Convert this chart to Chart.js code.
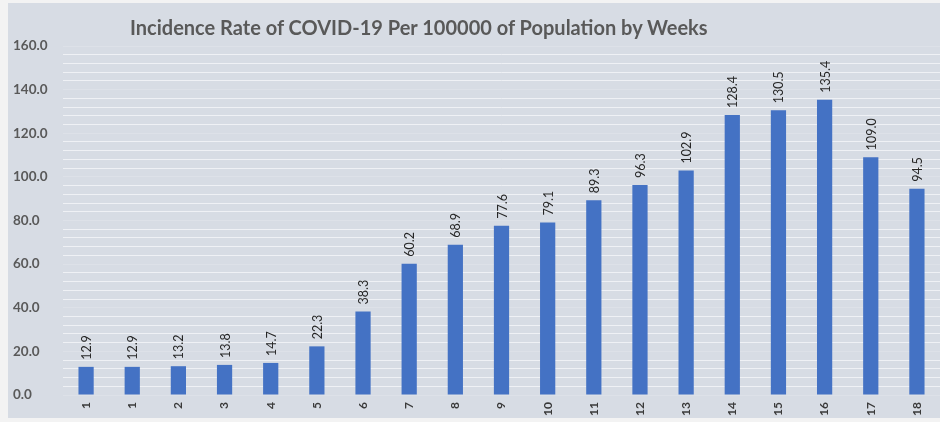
<!DOCTYPE html>
<html>
<head>
<meta charset="utf-8">
<script src="https://cdn.jsdelivr.net/npm/chart.js@4"></script>
<style>
  html, body { margin: 0; padding: 0; background: #f3f3f3; }
  #frame { position: absolute; left: 8px; top: 3px; width: 932px; height: 415px; background: #d7dce4; }
  #title { position: absolute; left: 122px; top: 14px; font: bold 20px Lato, sans-serif; line-height: 20px; color: #595959; white-space: nowrap; }
</style>
</head>
<body>
<div id="frame">
  <div id="title">Incidence Rate of COVID-19 Per 100000 of Population by Weeks</div>
  <canvas id="chart-incidence"></canvas>
</div>
<script>
const weeks = ['1', '1', '2', '3', '4', '5', '6', '7', '8', '9', '10', '11', '12', '13', '14', '15', '16', '17', '18'];
const rates = [12.9, 12.9, 13.2, 13.8, 14.7, 22.3, 38.3, 60.2, 68.9, 77.6, 79.1, 89.3, 96.3, 102.9, 128.4, 130.5, 135.4, 109.0, 94.5];
const yTicks = [0, 20, 40, 60, 80, 100, 120, 140, 160];

// value labels standing on top of each bar, rotated
const barLabels = {
  id: 'barLabels',
  afterDatasetsDraw(chart) {
    const { ctx } = chart;
    const meta = chart.getDatasetMeta(0);
    ctx.save();
    ctx.font = '12.5px Lato';
    ctx.fillStyle = '#262626';
    ctx.textAlign = 'left';
    ctx.textBaseline = 'middle';
    meta.data.forEach((bar, i) => {
      ctx.save();
      ctx.translate(bar.x + 1, bar.y - 7);
      ctx.rotate(-Math.PI / 2);
      ctx.fillText(rates[i].toFixed(1), 0, 0);
      ctx.restore();
    });
    ctx.restore();
  }
};

let incidenceChart;
const drawIncidence = () => {
  const canvas = document.getElementById('chart-incidence');
  incidenceChart = new Chart(canvas, {
    type: 'bar',
    data: {
      labels: weeks,
      datasets: [
        {
          data: rates,
          backgroundColor: '#4472c4',
          barPercentage: 0.33,
          categoryPercentage: 1
        }
      ]
    },
    options: {
      responsive: true,
      maintainAspectRatio: false,
      animation: false,
      layout: { padding: { top: 43, left: 5, right: 0, bottom: 0 } },
      plugins: {
        legend: { display: false },
        tooltip: { enabled: false }
      },
      scales: {
        x: {
          grid: { display: false, drawTicks: false },
          border: { display: false },
          ticks: {
            minRotation: 90,
            maxRotation: 90,
            autoSkip: false,
            padding: 7,
            color: '#3a3a3a',
            font: { family: 'Lato', size: 12, weight: 'bold' }
          },
          afterFit: (scale) => { scale.height = 23; }
        },
        y: {
          min: 0,
          max: 160,
          border: { display: false },
          grid: {
            drawTicks: false,
            color: (c) => (yTicks.includes(c.tick.value) ? '#dde1e8' : '#eff1f5')
          },
          ticks: {
            stepSize: 4,
            autoSkip: false,
            crossAlign: 'far',
            padding: 0,
            color: '#595959',
            font: { family: 'Lato', size: 13.5, weight: 'bold' },
            callback: (v) => (yTicks.includes(v) ? v.toFixed(1) : '')
          },
          afterFit: (scale) => { scale.width = 50; }
        }
      }
    },
    plugins: [barLabels]
  });
};

drawIncidence();
</script>
</body>
</html>
